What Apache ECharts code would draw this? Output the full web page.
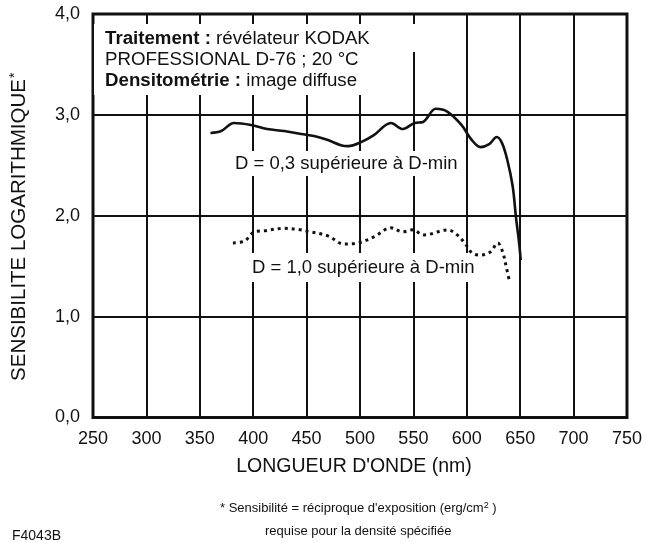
<!DOCTYPE html>
<html>
<head>
<meta charset="utf-8">
<script src="https://cdn.jsdelivr.net/npm/echarts@6/dist/echarts.min.js"></script>
<style>
html,body{margin:0;padding:0;background:#fff;}
#chart{width:645px;height:542px;}
</style>
</head>
<body>
<div id="chart"></div>
<script>
// Wavelength (nm) and log sensitivity
const solidWavelengths = [360, 370, 382, 398, 413, 429, 445, 457, 470, 482, 489, 501, 513, 529, 540, 551, 559, 571, 582, 595, 604, 613, 621, 628, 633, 638, 643, 646, 649, 650.5];
const solidValues      = [2.82, 2.84, 2.92, 2.90, 2.86, 2.84, 2.81, 2.79, 2.75, 2.70, 2.69, 2.73, 2.80, 2.92, 2.86, 2.92, 2.93, 3.06, 3.03, 2.90, 2.76, 2.68, 2.71, 2.78, 2.72, 2.55, 2.29, 1.99, 1.73, 1.56];
const dottedWavelengths = [381, 392, 401, 410, 429, 442, 454, 470, 485, 498, 513, 529, 540, 549, 560, 582, 591, 598, 605, 613, 622, 629, 633.6, 637, 640];
const dottedValues      = [1.73, 1.75, 1.84, 1.85, 1.875, 1.865, 1.84, 1.80, 1.72, 1.73, 1.79, 1.88, 1.84, 1.86, 1.81, 1.86, 1.81, 1.73, 1.63, 1.61, 1.64, 1.73, 1.64, 1.49, 1.35];
const xTicks = [250, 300, 350, 400, 450, 500, 550, 600, 650, 700, 750];
const yTicks = ['0,0', '1,0', '2,0', '3,0', '4,0'];
const solidLabel = 'D = 0,3 supérieure à D-min';
const dottedLabel = 'D = 1,0 supérieure à D-min';

const FONT = '"Liberation Sans", Arial, Helvetica, sans-serif';
const INK = '#111';

const chart = echarts.init(document.getElementById('chart'), null, {renderer: 'canvas'});
const pair = (xs, ys) => xs.map((x, i) => [x, ys[i]]);

chart.setOption({
  animation: false,
  backgroundColor: '#fff',
  grid: {left: 92, right: 18, top: 14, bottom: 124.5, show: true, borderColor: INK, borderWidth: 3, backgroundColor: 'transparent'},
  xAxis: {
    type: 'value', min: xTicks[0], max: xTicks[xTicks.length - 1], interval: 50,
    name: 'LONGUEUR D\'ONDE (nm)', nameLocation: 'middle', nameGap: 39,
    nameTextStyle: {fontFamily: FONT, fontSize: 19.5, color: INK, padding: [0, 12, 0, 0]},
    axisLine: {show: false}, axisTick: {show: false},
    axisLabel: {margin: 13, fontFamily: FONT, fontSize: 18, color: INK},
    splitLine: {show: true, lineStyle: {color: INK, width: 2}}
  },
  yAxis: {
    type: 'value', min: 0, max: 4, interval: 1,
    name: '{n|SENSIBILITE LOGARITHMIQUE}{s|*}', nameLocation: 'middle', nameGap: 63, nameRotate: 90,
    nameTextStyle: {
      fontFamily: FONT, fontSize: 20.5, color: INK, padding: [0, 22, 0, 0],
      rich: {
        n: {fontFamily: FONT, fontSize: 20.5, color: INK},
        s: {fontFamily: FONT, fontSize: 14, color: INK, verticalAlign: 'top', padding: [0, 0, 8, 1]}
      }
    },
    axisLine: {show: false}, axisTick: {show: false},
    axisLabel: {margin: 13, fontFamily: FONT, fontSize: 18, color: INK, formatter: (v) => yTicks[Math.round(v)]},
    splitLine: {show: true, lineStyle: {color: INK, width: 2}}
  },
  series: [
    {
      type: 'line', z: 10, smooth: 0.35, symbol: 'none',
      data: pair(solidWavelengths, solidValues),
      lineStyle: {color: INK, width: 2.6}
    },
    {
      type: 'line', z: 10, smooth: 0.35, symbol: 'none',
      data: pair(dottedWavelengths, dottedValues),
      lineStyle: {color: INK, width: 3, type: [3, 4], cap: 'butt'}
    }
  ],
  graphic: [
    // white box behind the processing note (hides grid lines)
    {type: 'rect', z: 5, silent: true, shape: {x: 94, y: 24, width: 301, height: 71}, style: {fill: '#fff'}},
    {type: 'rect', z: 5, silent: true, shape: {x: 395, y: 24, width: 45, height: 28}, style: {fill: '#fff'}},
    {
      type: 'text', z: 6, left: 105, top: 28,
      style: {
        text: '{b|Traitement :} révélateur KODAK\nPROFESSIONAL D-76 ; 20 °C\n{b|Densitométrie :} image diffuse',
        font: '18.7px ' + FONT, fill: INK, lineHeight: 21,
        rich: {b: {fontWeight: 'bold', fontFamily: FONT, fontSize: 18.7, fill: INK, lineHeight: 21}}
      }
    },
    {
      type: 'text', z: 6, left: 231, top: 151,
      style: {text: solidLabel, font: '18.5px ' + FONT, fill: INK, backgroundColor: '#fff', padding: [3, 4, 3, 4]}
    },
    {
      type: 'text', z: 6, left: 248, top: 253,
      style: {text: dottedLabel, font: '18.5px ' + FONT, fill: INK, backgroundColor: '#fff', padding: [5, 4, 5, 4]}
    },
    {
      type: 'text', z: 6, left: 220, top: 501,
      style: {
        text: '* Sensibilité = réciproque d\'exposition (erg/cm{s|2} )',
        font: '13px ' + FONT, fill: INK,
        rich: {s: {fontFamily: FONT, fontSize: 9, fill: INK, verticalAlign: 'top', padding: [0, 0, 5, 0]}}
      }
    },
    {
      type: 'text', z: 6, left: 265, top: 525,
      style: {text: 'requise pour la densité spécifiée', font: '13px ' + FONT, fill: INK}
    },
    {
      type: 'text', z: 6, left: 12, top: 529,
      style: {text: 'F4043B', font: '14px ' + FONT, fill: INK}
    }
  ]
});
</script>
</body>
</html>
